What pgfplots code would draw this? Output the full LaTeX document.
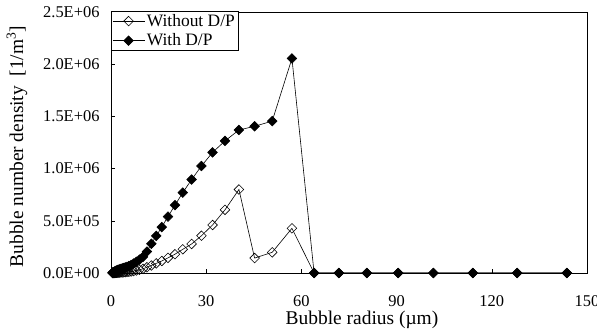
\documentclass[border=0pt]{standalone}
\usepackage{fontspec}
\setmainfont{Liberation Serif}
\usepackage{pgfplots}
\pgfplotsset{compat=1.18}
\begin{document}
\begin{tikzpicture}
\begin{axis}[
  scale only axis, width=476bp, height=261bp,
  xmin=0, xmax=150, ymin=0, ymax=2500000,
  xtick={0,30,60,90,120,150},
  ytick={0,500000,1000000,1500000,2000000,2500000},
  yticklabels={0.0E+00,5.0E+05,1.0E+06,1.5E+06,2.0E+06,2.5E+06},
  scaled y ticks=false,
  /pgf/number format/assume math mode=true,
  tick align=inside, major tick length=4bp, tick pos=left,
  tick style={black, line width=0.6bp},
  axis line style={line width=0.8bp},
  ticklabel style={font=\fontsize{16.5}{18}\selectfont},
  yticklabel style={xshift=-8bp},
  xticklabel style={yshift=-19bp},
  every axis x label/.style={at={(axis description cs:0.5,0)}, anchor=center, yshift=-47bp, xshift=13bp, font=\fontsize{19.5}{22}\selectfont},
  every axis y label/.style={at={(axis description cs:0,0.5)}, anchor=center, xshift=-94bp, yshift=-4bp, rotate=90, font=\fontsize{19.5}{22}\selectfont},
  xlabel={Bubble radius (µm)},
  ylabel={Bubble number density\ \ [1/m\textsuperscript{3}]},
  legend style={at={(0,1)}, anchor=north west, yshift=1bp, draw=black, line width=0.6bp,
    font=\fontsize{17.5}{19}\selectfont, inner xsep=1bp, inner ysep=1bp, row sep=2bp},
  legend cell align=left,
  legend image code/.code={\draw[mark repeat=2,mark phase=2] plot coordinates {(0bp,0bp) (16bp,0bp) (32bp,0bp)};},
]
\addplot[black, line width=0.6bp, mark=square, mark size=3.4bp, mark options={rotate=45, fill=white, solid}] coordinates {
(0.50,0)(0.56,0)(0.63,500)(0.71,700)(0.79,900)(0.89,1100)(1.00,1300)(1.12,1500)(1.26,1800)(1.41,2100)(1.59,2400)(1.78,2800)(2.00,3200)(2.24,3700)(2.52,4200)(2.83,4800)(3.17,5500)(3.56,6300)(4.00,7200)(4.49,8500)(5.04,10000)(5.66,12000)(6.35,15000)(7.13,19000)(8.00,24000)(8.98,31000)(10.08,40000)(11.31,55000)(12.70,72000)(14.25,92000)(16.00,115000)(17.96,145000)(20.16,180000)(22.63,227000)(25.40,278000)(28.51,357000)(32.00,460000)(35.92,605000)(40.32,800000)(45.25,143000)(50.80,198000)(57.02,428000)(64.00,0)(71.84,0)(80.63,0)(90.51,0)(101.59,0)(114.04,0)(128.00,0)(143.68,0)
};
\addlegendentry{Without D/P}
\addplot[black, line width=0.6bp, mark=square*, mark size=3.4bp, mark options={rotate=45, fill=black, solid}] coordinates {
(0.50,2000)(0.56,3000)(0.63,4000)(0.71,5000)(0.79,6500)(0.89,8000)(1.00,10000)(1.12,12000)(1.26,15000)(1.41,18000)(1.59,21000)(1.78,24000)(2.00,27000)(2.24,30000)(2.52,33000)(2.83,37000)(3.17,40000)(3.56,44000)(4.00,48000)(4.49,53000)(5.04,59000)(5.66,67000)(6.35,77000)(7.13,90000)(8.00,107000)(8.98,128000)(10.08,155000)(11.31,205000)(12.70,280000)(14.25,355000)(16.00,440000)(17.96,540000)(20.16,650000)(22.63,770000)(25.40,895000)(28.51,1025000)(32.00,1155000)(35.92,1265000)(40.32,1370000)(45.25,1405000)(50.80,1455000)(57.02,2055000)(64.00,0)(71.84,0)(80.63,0)(90.51,0)(101.59,0)(114.04,0)(128.00,0)(143.68,0)
};
\addlegendentry{With D/P}
\end{axis}
\pgfresetboundingbox
\path[use as bounding box] (-111bp,-60bp) rectangle (486bp,273bp);
\end{tikzpicture}
\end{document}
